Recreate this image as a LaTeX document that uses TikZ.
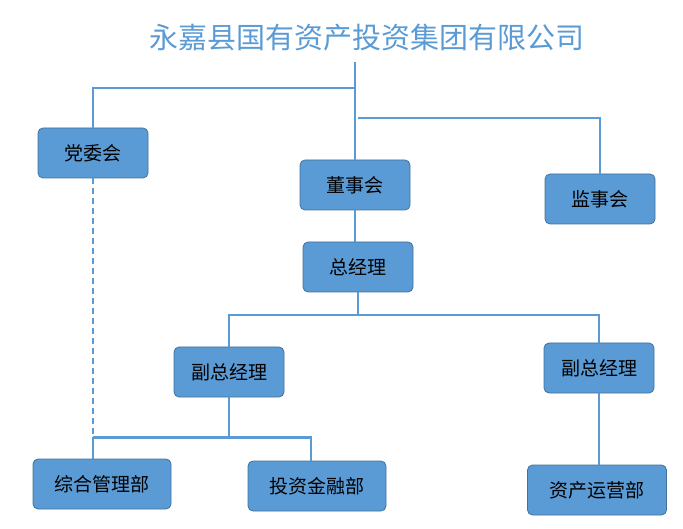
\documentclass[tikz,border=0pt]{standalone}
\usepackage{fontspec}
\usepackage{tikz}
\usetikzlibrary{positioning,calc}
\newfontfamily\cjk{Noto Sans CJK SC}
\definecolor{orgfill}{HTML}{5B9BD5}
\definecolor{orgedge}{HTML}{41719C}
\definecolor{orgline}{HTML}{5B9BD5}
\tikzstyle{orgbox} = [draw=orgedge, fill=orgfill, rounded corners=5pt, inner sep=0pt, minimum width=110pt, minimum height=50pt, line width=0.8pt, text=black, font=\cjk\fontsize{19}{22}\selectfont]
\tikzstyle{link} = [orgline, line width=2.2pt]

\begin{document}
\begin{tikzpicture}[x=1pt, y=-1pt]
\useasboundingbox (0,0) rectangle (683,529);
\node[font=\cjk\fontsize{29}{32}\selectfont, text=orgline] (title) at (367,38) {永嘉县国有资产投资集团有限公司};

% boxes
\node[orgbox] (party) at (93,153) {党委会};
\node[orgbox] (board) at (355,185) {董事会};
\node[orgbox] (supervisor) at (600,199) {监事会};
\node[orgbox] (gm) at (358,267) {总经理};
\node[orgbox] (vpleft) at (229,372) {副总经理};
\node[orgbox] (vpright) at (599,368) {副总经理};
\node[orgbox, minimum width=138pt] (admin) at (102,484) {综合管理部};
\node[orgbox, minimum width=138pt] (invest) at (317,486) {投资金融部};
\node[orgbox, minimum width=139pt] (assets) at (597,490) {资产运营部};

% connectors
\coordinate (top) at (355,62);
\coordinate (forkparty) at (355,88);
\coordinate (forksup) at (358,118);
\draw[link] (top) -- (board.north);
\draw[link] (forkparty) -| (party.north);
\draw[link] (forksup) -| (supervisor.north);
\draw[link] (board.south) -- (board.south |- gm.north);
\draw[link] (gm.south) -- ++(0,23) coordinate (forkvp);
\draw[link] (vpleft.north) |- (forkvp) -| (vpright.north);
\draw[link] (vpleft.south) -- ++(0,40) coordinate (forkdept);
\coordinate (joint) at (party.south |- forkdept);
\draw[link] (joint) -- (joint |- admin.north);
\draw[link] (joint) -| ([xshift=-6pt]invest.north);
\draw[link, dash pattern=on 6pt off 4pt] (party.south) -- (joint);
\draw[link] (vpright.south) -- (vpright.south |- assets.north);
\end{tikzpicture}
\end{document}
